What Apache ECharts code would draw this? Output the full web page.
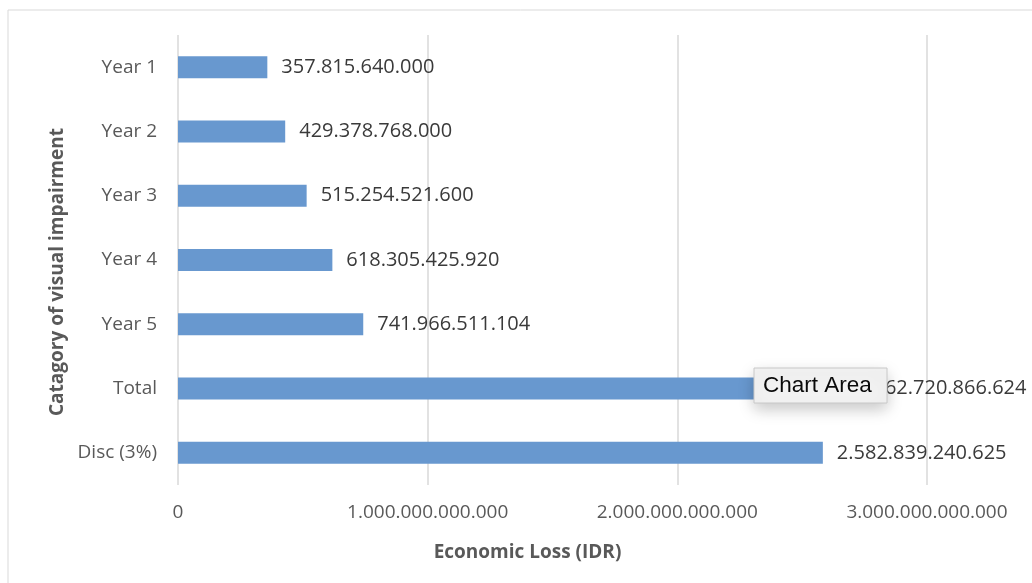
<!DOCTYPE html>
<html>
<head>
<meta charset="utf-8">
<style>
  html, body { margin: 0; padding: 0; background: #ffffff; }
  #chart { width: 1032px; height: 583px; }
</style>
<script src="https://cdn.jsdelivr.net/npm/echarts@6/dist/echarts.min.js"></script>
</head>
<body>
<div id="chart"></div>
<script>
const categories = ['Year 1', 'Year 2', 'Year 3', 'Year 4', 'Year 5', 'Total', 'Disc (3%)'];
const lossValues = [357815640000, 429378768000, 515254521600, 618305425920, 741966511104, 2662720866624, 2582839240625];
const axisMax = 3000000000000;
const axisInterval = 1000000000000;

function fmt(v) {
  return String(Math.round(v)).replace(/\B(?=(\d{3})+(?!\d))/g, '.');
}

const FONT = '"Open Sans", "Noto Sans", sans-serif';
const chart = echarts.init(document.getElementById('chart'), null, { renderer: 'canvas' });

chart.setOption({
  animation: false,
  backgroundColor: '#ffffff',
  grid: { left: 178, right: 105, top: 35, bottom: 98, containLabel: false },
  xAxis: {
    type: 'value',
    min: 0,
    max: axisMax,
    interval: axisInterval,
    name: 'Economic Loss (IDR)',
    nameLocation: 'middle',
    nameGap: 58,
    nameTextStyle: { fontFamily: FONT, fontSize: 19, fontWeight: 'bold', color: '#595959', padding: [0, 50, 0, 0] },
    axisLine: { show: false },
    axisTick: { show: false },
    axisLabel: { fontFamily: FONT, fontSize: 19, color: '#595959', margin: 18, formatter: fmt },
    splitLine: { show: true, lineStyle: { color: '#d9d9d9', width: 1.5 } }
  },
  yAxis: {
    type: 'category',
    data: categories,
    inverse: true,
    name: 'Catagory of visual impairment',
    nameLocation: 'middle',
    nameRotate: 90,
    nameGap: 108,
    nameTextStyle: { fontFamily: FONT, fontSize: 19, fontWeight: 'bold', color: '#595959', padding: [0, 24, 0, 0] },
    axisLine: { show: false },
    axisTick: { show: false },
    axisLabel: { fontFamily: FONT, fontSize: 19, color: '#595959', margin: 21 },
    splitLine: { show: false }
  },
  series: [{
    type: 'bar',
    data: lossValues,
    barWidth: 22,
    itemStyle: { color: '#6898cf' },
    label: {
      show: true,
      position: 'right',
      distance: 14,
      fontFamily: FONT,
      fontSize: 20,
      color: '#3a3a3a',
      formatter: p => fmt(p.value)
    }
  }],
  graphic: [
    {
      type: 'rect',
      shape: { x: 8, y: 10, width: 1200, height: 1000 },
      style: { fill: 'none', stroke: '#d9d9d9', lineWidth: 1 },
      silent: true,
      z: -10
    },
    {
      type: 'rect',
      zlevel: 5,
      z: 100,
      shape: { x: 754, y: 368, width: 133, height: 35 },
      style: {
        fill: '#f2f2f2', stroke: '#c8c8c8', lineWidth: 1,
        shadowBlur: 16, shadowColor: 'rgba(0,0,0,0.22)', shadowOffsetY: 6
      }
    },
    {
      type: 'text',
      zlevel: 5,
      z: 101,
      x: 763,
      y: 386,
      style: {
        text: 'Chart Area',
        font: '22.5px "Liberation Sans", Arial, sans-serif',
        fill: '#0a0a0a',
        verticalAlign: 'middle'
      }
    }
  ]
});
</script>
</body>
</html>
